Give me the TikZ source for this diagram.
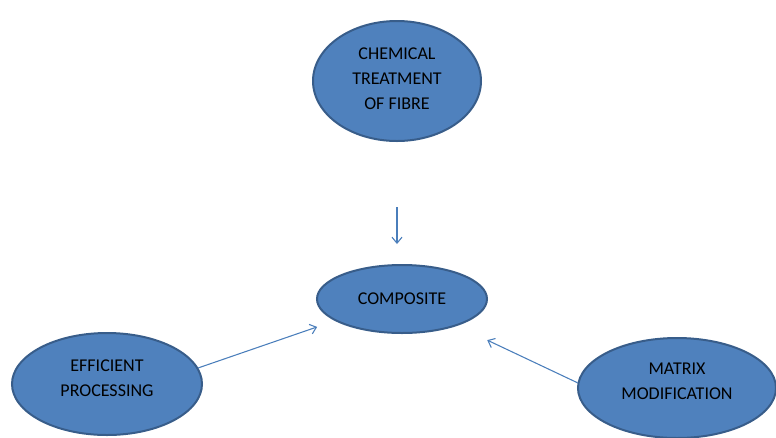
\documentclass[tikz,border=0pt]{standalone}
\usepackage{fontspec}
\setmainfont{Carlito}
\usetikzlibrary{shapes.geometric,arrows.meta,positioning,calc}
\definecolor{ofblue}{RGB}{79,129,189}
\definecolor{ofdark}{RGB}{56,93,138}
\definecolor{ofline}{RGB}{74,126,187}

\begin{document}
\begin{tikzpicture}[x=0.75pt, y=-0.75pt,
    blob/.style={ellipse, draw=ofdark, line width=1.5pt, fill=ofblue, inner sep=0pt, align=center, font=\fontsize{13.5}{18.75}\selectfont},
    arrow/.style={-{Straight Barb[length=4.5pt,width=7.5pt]}, ofline, line width=0.8pt}]
  \useasboundingbox (0,0) rectangle (776,437);
  \node[blob, minimum width=126pt, minimum height=90pt, text depth=4pt] (chem) at (397,81) {CHEMICAL\\TREATMENT\\OF FIBRE};
  \node[blob, minimum width=127.5pt, minimum height=51pt] (comp) at (402,299) {COMPOSITE};
  \node[blob, minimum width=142.5pt, minimum height=76.5pt, text depth=9pt] (eff) at (107,384) {EFFICIENT\\PROCESSING};
  \node[blob, minimum width=148.5pt, minimum height=75pt, text depth=10pt] (matrix) at (677,388) {MATRIX\\MODIFICATION};
  % arrows into the composite
  \draw[arrow, shorten <=49pt, shorten >=15pt] (chem.south) -- (chem.south |- comp.north);
  \draw[arrow, shorten >=14pt] (eff.10) -- (comp.198);
  \draw[arrow, shorten >=25pt] (matrix.177) -- (comp.334);
\end{tikzpicture}
\end{document}
